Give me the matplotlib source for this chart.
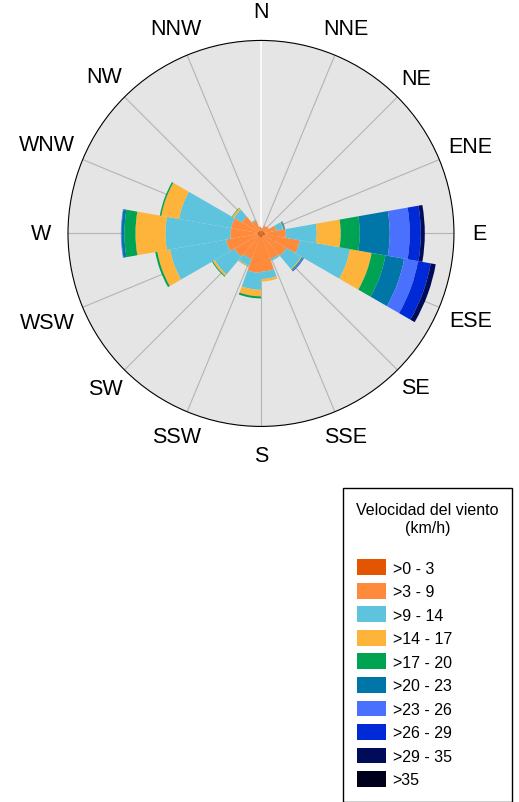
import numpy as np
import matplotlib.pyplot as plt

plt.rcParams['font.family'] = ['Liberation Sans', 'DejaVu Sans']

# wind direction bins (compass degrees, bin centres, 20 deg wide)
directions = np.arange(10, 360, 20)

compass_names = ['N', 'NNE', 'NE', 'ENE', 'E', 'ESE', 'SE', 'SSE',
                 'S', 'SSW', 'SW', 'WSW', 'W', 'WNW', 'NW', 'NNW']
# distance of each compass label from the centre (pixels, circle = 193)
label_dist = [222, 222, 219, 226.5, 218, 226.5, 218, 220,
              222.5, 220, 220, 231.5, 220, 231.5, 221.5, 222]

speed_labels = ['>0 - 3', '>3 - 9', '>9 - 14', '>14 - 17', '>17 - 20',
                '>20 - 23', '>23 - 26', '>26 - 29', '>29 - 35', '>35']
colors = ['#e35500', '#ff8a3c', '#5ec4dd', '#feb43a', '#00a352',
          '#0076a8', '#4a70fe', '#002ad8', '#000c5a', '#00001c']

# frequency (%) per direction bin, one list per speed class
f_0_3 = [0.25, 0.30, 0.28, 0.30, 0.35, 0.40, 0.30, 0.30, 0.38,
         0.40, 0.30, 0.32, 0.30, 0.33, 0.30, 0.28, 0.25, 0.27]
f_3_9 = [0.28, 0.47, 0.56, 1.12, 1.96, 3.27, 2.43, 2.24, 3.17,
         3.27, 2.24, 2.52, 2.99, 2.52, 2.52, 1.77, 1.03, 0.37]
f_9_14 = [0, 0, 0, 0.65, 2.89, 4.76, 1.59, 0.19, 0.70,
          1.59, 0.65, 2.15, 5.32, 6.06, 4.94, 0.84, 0.09, 0]
f_14_17 = [0, 0, 0, 0.06, 2.24, 2.05, 0.07, 0, 0.23,
           0.61, 0.07, 0.19, 1.21, 2.80, 1.68, 0.19, 0, 0]
f_17_20 = [0, 0, 0, 0.06, 1.77, 1.31, 0.06, 0, 0,
           0.19, 0.03, 0.09, 0.19, 1.03, 0.14, 0.05, 0, 0]
f_20_23 = [0, 0, 0, 0.06, 2.80, 1.77, 0.07, 0, 0,
           0, 0, 0, 0, 0.28, 0, 0, 0, 0]
f_23_26 = [0, 0, 0, 0.04, 1.87, 1.31, 0.05, 0, 0,
           0, 0, 0, 0, 0.05, 0, 0, 0, 0]
f_26_29 = [0, 0, 0, 0, 1.03, 1.21, 0.05, 0, 0,
           0, 0, 0, 0, 0, 0, 0, 0, 0]
f_29_35 = [0, 0, 0, 0, 0.37, 0.47, 0, 0, 0,
           0, 0, 0, 0, 0, 0, 0, 0, 0]
f_35 = [0, 0, 0, 0, 0, 0, 0, 0, 0,
        0, 0, 0, 0, 0, 0, 0, 0, 0]

series = [f_0_3, f_3_9, f_9_14, f_14_17, f_17_20,
          f_20_23, f_23_26, f_26_29, f_29_35, f_35]

rmax = 18

fig = plt.figure(figsize=(5.19, 8.03), dpi=100)
ax = fig.add_axes([0.131, 0.4677, 0.7437, 0.4807], projection='polar')
ax.set_theta_zero_location('N')
ax.set_theta_direction(-1)
ax.set_facecolor('#e5e5e5')
ax.set_axisbelow(True)

theta = np.deg2rad(directions)
width = np.deg2rad(20)
bottom = np.zeros(len(directions))
handles = []
for vals, col, lab in zip(series, colors, speed_labels):
    vals = np.array(vals, dtype=float)
    b = ax.bar(theta, vals, width=width, bottom=bottom, color=col,
               edgecolor='none', linewidth=0, label=lab)
    handles.append(b)
    bottom += vals

ax.set_ylim(0, rmax)
ax.set_yticks([])
ax.set_xticks(np.deg2rad(np.arange(0, 360, 22.5)))
ax.set_xticklabels([])
ax.tick_params(axis='x', length=0)
ax.xaxis.grid(True, color='#b4b4b4', linewidth=0.8)
ax.yaxis.grid(False)
ax.xaxis.get_gridlines()[0].set_color('#fafafa')
ax.xaxis.get_gridlines()[0].set_linewidth(1.4)
ax.spines['polar'].set_color('black')
ax.spines['polar'].set_linewidth(0.8)

for ang, name, d in zip(np.arange(0, 360, 22.5), compass_names, label_dist):
    ax.text(np.deg2rad(ang), rmax * d / 193, name, ha='center', va='center',
            fontsize=15.5, clip_on=False)

leg = fig.legend(handles=handles, labels=speed_labels, loc='upper left',
                 bbox_to_anchor=(343 / 519, 1 - 489 / 803, 169 / 519, 0),
                 mode='expand', borderaxespad=0, fancybox=False,
                 edgecolor='black', framealpha=1,
                 title='Velocidad del viento\n(km/h)\n', alignment='center',
                 title_fontsize=11.5, fontsize=11.5,
                 handlelength=1.8, handleheight=1.15, handletextpad=0.4,
                 labelspacing=0.45, borderpad=0.9)
leg.get_frame().set_linewidth(1.0)
leg.get_title().set_multialignment('center')

fig.savefig('out.png', dpi=100)
